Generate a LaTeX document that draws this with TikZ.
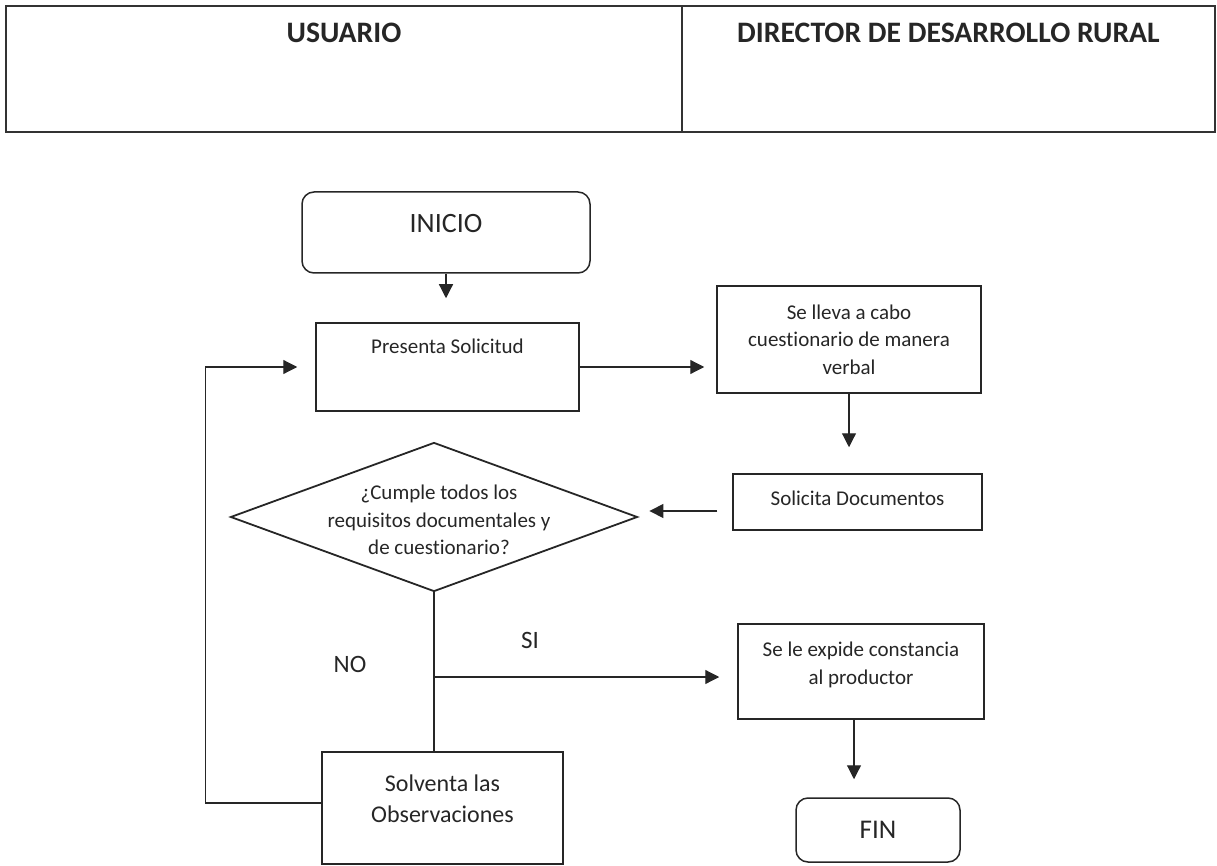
\documentclass[tikz,border=0pt]{standalone}
\usepackage{fontspec}
\setmainfont{Carlito}[Ligatures=CommonOff]
\usetikzlibrary{positioning,shapes.geometric,arrows.meta}

\begin{document}
\begin{tikzpicture}[x=1pt, y=-1pt,
    marco/.style={draw=black!80, line width=1.6pt},
    titulo/.style={font=\fontsize{29.7}{34}\selectfont\bfseries, text=black!85},
    caja/.style={draw=black!85, line width=1.5pt, rectangle, align=center, inner sep=0pt,
        font=\fontsize{21}{27.5}\selectfont, text=black!85},
    terminal/.style={caja, rounded corners=12pt, font=\fontsize{28}{33}\selectfont},
    decision/.style={draw=black!85, line width=1.8pt, diamond, inner sep=0pt,
        minimum width=407pt, minimum height=149pt},
    diamtexto/.style={align=center, inner sep=0pt, font=\fontsize{21}{27.5}\selectfont, text=black!85},
    etiqueta/.style={inner sep=0pt, font=\fontsize{25}{30}\selectfont, text=black!85},
    linea/.style={draw=black!85, line width=1.2pt},
    flecha/.style={linea, -{Triangle[length=14pt, width=14pt]}}
]
    \useasboundingbox (0,0) rectangle (1217,866);
    % Encabezado
    \draw[marco] (6,6) rectangle (1215,132);
    \draw[marco] (682,6) -- (682,132);
    \node[titulo, anchor=base] (usuario) at (344,43) {USUARIO};
    \node[titulo, anchor=base] (director) at (948.5,43) {DIRECTOR DE DESARROLLO RURAL};
    % Cajas
    \node[terminal, minimum width=288pt, minimum height=81pt, text height=20pt, text depth=20pt] (inicio) at (446,232.5) {INICIO};
    \node[caja, minimum width=263pt, minimum height=88pt, text height=15pt, text depth=43pt] (presenta) at (447.5,367) {Presenta Solicitud};
    \node[caja, minimum width=264pt, minimum height=107pt] (cuestionario) at (849,339.5) {Se lleva a cabo\\cuestionario de manera\\verbal};
    \node[caja, minimum width=249pt, minimum height=56pt, text height=12pt, text depth=6pt] (documentos) at (857.5,502) {Solicita Documentos};
    \node[decision, label={[diamtexto, xshift=5pt, yshift=-3pt]center:{¿Cumple todos los\\requisitos documentales y\\de cuestionario?}}] (cumple) at (434,517) {};
    \node[caja, minimum width=241pt, minimum height=112pt, font=\fontsize{24}{31}\selectfont, text height=48pt, text depth=20pt] (solventa) at (442.5,808) {Solventa las\\Observaciones};
    \node[caja, minimum width=246pt, minimum height=95pt, text height=43pt, text depth=18pt] (constancia) at (861,671.5) {Se le expide constancia\\al productor};
    \node[terminal, minimum width=164pt, minimum height=64pt, font=\fontsize{27}{32}\selectfont] (fin) at (878,830) {FIN};
    \node[etiqueta] (no) at (350,664) {NO};
    \node[etiqueta] (si) at (530,640) {SI};
    % Flechas
    \draw[flecha, shorten >=24pt] (inicio.south) -- (inicio.south |- presenta.north);
    \draw[flecha, shorten >=12pt] (presenta.east) -- (presenta.east -| cuestionario.west);
    \draw[flecha, shorten >=26pt] (cuestionario.south) -- (cuestionario.south |- documentos.north);
    \coordinate (d1) at ([yshift=-9pt]documentos.west);
    \draw[flecha, shorten <=15pt, shorten >=11pt] (d1) -- (d1 -| cumple.east);
    \draw[linea] (cumple.south) -- (cumple.south |- solventa.north);
    \coordinate (rama) at (cumple.south |- 0,677);
    \draw[flecha, shorten >=18pt] (rama) -- (rama -| constancia.west);
    \draw[flecha, shorten >=18pt] ([xshift=-7pt]constancia.south) -- ([xshift=-7pt]constancia.south |- fin.north);
    \draw[flecha, shorten >=18pt] ([yshift=5pt]solventa.west) -- ++(-116,0) |- (presenta.west);
\end{tikzpicture}
\end{document}
